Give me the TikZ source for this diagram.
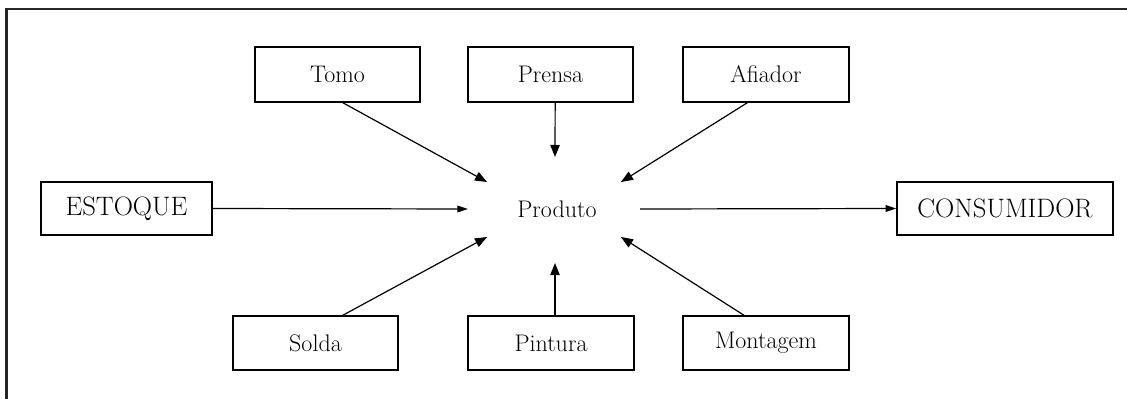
\documentclass[tikz,border=0pt]{standalone}
\usepackage{fontspec}
\usetikzlibrary{arrows.meta}

\begin{document}
\begin{tikzpicture}[x=0.75pt,y=-0.75pt,
  box/.style={draw=black, line width=1.1pt, inner sep=0pt, fill=white},
  small/.style={box, minimum width=0.75*165pt, minimum height=0.75*55pt,
                font=\fontsize{18}{20}\selectfont},
  big/.style={box, minimum height=0.75*53pt, font=\fontsize{20}{22}\selectfont},
  flow/.style={line width=0.9pt, -{Triangle[length=9pt,width=7pt]}},
  flowh/.style={line width=0.9pt, -{Triangle[length=8pt,width=5pt]}}]

  \useasboundingbox (0,0) rectangle (1127,399);

  % outer frame: only the top and left edges show
  \draw[line width=1.6pt, black!85] (6.5,399) -- (6.5,9) -- (1127,9);

  % the product in the middle
  \node[font=\fontsize{18}{20}\selectfont] (produto) at (557,209) {Produto};

  % machines and stations
  \node[small] (tomo)     at (337.5,74.5) {Tomo};
  \node[small] (prensa)   at (550.5,74.5) {Prensa};
  \node[small, minimum width=0.75*166pt] (afiador)  at (766,74.5) {Afiador};
  \node[small, minimum height=0.75*54pt] (solda)    at (315.5,343) {Solda};
  \node[small, minimum height=0.75*54pt, minimum width=0.75*166pt] (pintura)  at (551,343) {Pintura};
  \node[small, minimum height=0.75*54pt, minimum width=0.75*166pt] (montagem) at (766,343) {Montagem};

  % stock and consumer
  \node[big, minimum width=0.75*171pt] (estoque)    at (126.5,208.5) {ESTOQUE};
  \node[big, minimum width=0.75*216pt] (consumidor) at (1005,208.5) {CONSUMIDOR};

  % arrow ends around the product
  \coordinate (inTL) at (487,182);
  \coordinate (inT)  at (555,157);
  \coordinate (inTR) at (621,182);
  \coordinate (inL)  at (468,209);
  \coordinate (inBL) at (487,237);
  \coordinate (inB)  at (555,263);
  \coordinate (inBR) at (621,237);
  \coordinate (outR) at (640,209);

  % flows into the product
  \draw[flow] ([xshift=4pt]tomo.south) -- (inTL);
  \draw[flow] ([xshift=3.5pt]prensa.south) -- (inT);
  \draw[flow] ([xshift=-14pt]afiador.south) -- (inTR);
  \draw[flowh] (estoque.east) -- (inL);
  \draw[flow] ([xshift=20.5pt]solda.north) -- (inBL);
  \draw[flow] ([xshift=3pt]pintura.north) -- (inB);
  \draw[flow] ([xshift=-16.5pt]montagem.north) -- (inBR);

  % flow out to the consumer
  \draw[flowh] (outR) -- (consumidor.west);
\end{tikzpicture}
\end{document}
